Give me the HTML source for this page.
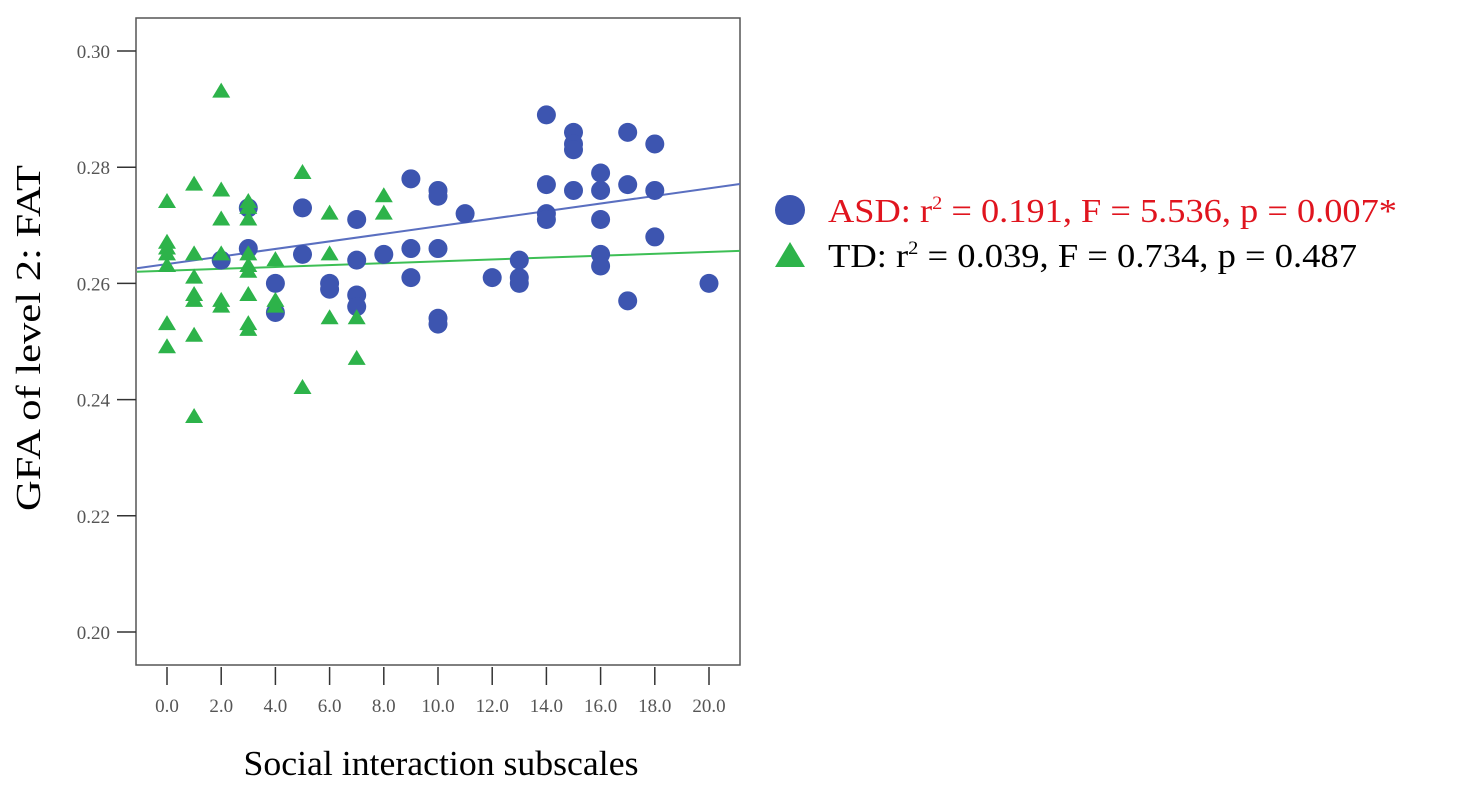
<!DOCTYPE html>
<html><head><meta charset="utf-8"><style>
body{margin:0;background:#fff;width:1457px;height:807px;overflow:hidden}
svg text{font-family:"Liberation Serif",serif}
</style></head><body>
<svg id="chart" width="1457" height="807">
<rect x="136" y="18" width="604" height="647" fill="none" stroke="#555" stroke-width="1.5"/>
<g id="axes"></g><g id="lines"></g><g id="marks"></g>
<text x="40" y="338" font-size="35" text-anchor="middle" textLength="346" lengthAdjust="spacingAndGlyphs" transform="rotate(-90 40 338)">GFA of level 2: FAT</text>
<text x="441" y="775" font-size="35" text-anchor="middle" textLength="395" lengthAdjust="spacingAndGlyphs">Social interaction subscales</text>
<circle cx="790" cy="210" r="15" fill="#3d55b0"/>
<text x="828" y="222" font-size="34" fill="#e0141e" textLength="569" lengthAdjust="spacingAndGlyphs">ASD: r<tspan font-size="19" dy="-13">2</tspan><tspan dy="13"> = 0.191, F = 5.536, p = 0.007*</tspan></text>
<polygon points="790,242 805,267 775,267" fill="#2db34a"/>
<text x="828" y="267" font-size="34" fill="#000" textLength="529" lengthAdjust="spacingAndGlyphs">TD: r<tspan font-size="19" dy="-13">2</tspan><tspan dy="13"> = 0.039, F = 0.734, p = 0.487</tspan></text>
</svg>
<script>
const xTicks=[0,2,4,6,8,10,12,14,16,18,20];
const yTicks=[0.20,0.22,0.24,0.26,0.28,0.30];
const asdX=[3,3,2,4,4,5,5,6,6,7,7,7,7,8,9,9,9,10,10,10,10,10,11,12,13,13,13,14,14,14,14,15,15,15,15,16,16,16,16,16,17,17,17,18,18,18,20];
const asdY=[0.273,0.266,0.264,0.260,0.255,0.273,0.265,0.260,0.259,0.271,0.264,0.258,0.256,0.265,0.278,0.266,0.261,0.276,0.275,0.266,0.254,0.253,0.272,0.261,0.264,0.261,0.260,0.289,0.277,0.272,0.271,0.286,0.284,0.283,0.276,0.279,0.276,0.271,0.265,0.263,0.286,0.277,0.257,0.284,0.276,0.268,0.260];
const tdX=[0,0,0,0,0,0,0,1,1,1,1,1,1,1,2,2,2,2,2,2,3,3,3,3,3,3,3,3,3,4,4,4,5,5,6,6,6,7,7,8,8];
const tdY=[0.274,0.267,0.266,0.265,0.263,0.253,0.249,0.277,0.265,0.261,0.258,0.257,0.251,0.237,0.293,0.276,0.271,0.265,0.257,0.256,0.274,0.273,0.271,0.265,0.263,0.262,0.258,0.253,0.252,0.264,0.257,0.256,0.279,0.242,0.272,0.265,0.254,0.254,0.247,0.275,0.272];
const fitX=[-1.107,21.14];
const asdFit=[0.2626,0.2771];
const tdFit=[0.2620,0.2656];
const NS='http://www.w3.org/2000/svg';
const sx=v=>167+v*27.1;
const sy=v=>51+(0.30-v)*5810;
function mk(t,a,p){const e=document.createElementNS(NS,t);for(const k in a)e.setAttribute(k,a[k]);p.appendChild(e);return e;}
const ax=document.getElementById('axes');
xTicks.forEach(t=>{
 const l=mk('line',{x1:sx(t),x2:sx(t),y1:667,y2:685,stroke:'#333','stroke-width':1.5},ax);
 
 
 const tx=mk('text',{x:sx(t),y:712,'font-size':19,fill:'#555','text-anchor':'middle'},ax);
 tx.textContent=t.toFixed(1);
 
 
});
yTicks.forEach(t=>{
 const l=mk('line',{x1:117,x2:136,y1:sy(t),y2:sy(t),stroke:'#333','stroke-width':1.5},ax);
 
 
 const tx=mk('text',{x:110,y:sy(t)+7,'font-size':19,fill:'#555','text-anchor':'end'},ax);
 tx.textContent=t.toFixed(2);
 
 
});
const ln=document.getElementById('lines');
const l1=mk('line',{x1:sx(fitX[0]),x2:sx(fitX[1]),y1:sy(asdFit[0]),y2:sy(asdFit[1]),stroke:'#5a6fc0','stroke-width':2},ln);


const l2=mk('line',{x1:sx(fitX[0]),x2:sx(fitX[1]),y1:sy(tdFit[0]),y2:sy(tdFit[1]),stroke:'#3dbf55','stroke-width':2},ln);


const mg=document.getElementById('marks');
asdX.forEach((x,i)=>{
 const c=mk('circle',{cx:sx(x),cy:sy(asdY[i]),r:9.5,fill:'#3d55b0'},mg);
 
 
});
tdX.forEach((x,i)=>{
 const X=sx(x),Y=sy(tdY[i]);
 const p=mk('polygon',{points:`${X},${Y-9} ${X+9},${Y+6} ${X-9},${Y+6}`,fill:'#2db34a'},mg);
 
 
});
</script>
</body></html>
